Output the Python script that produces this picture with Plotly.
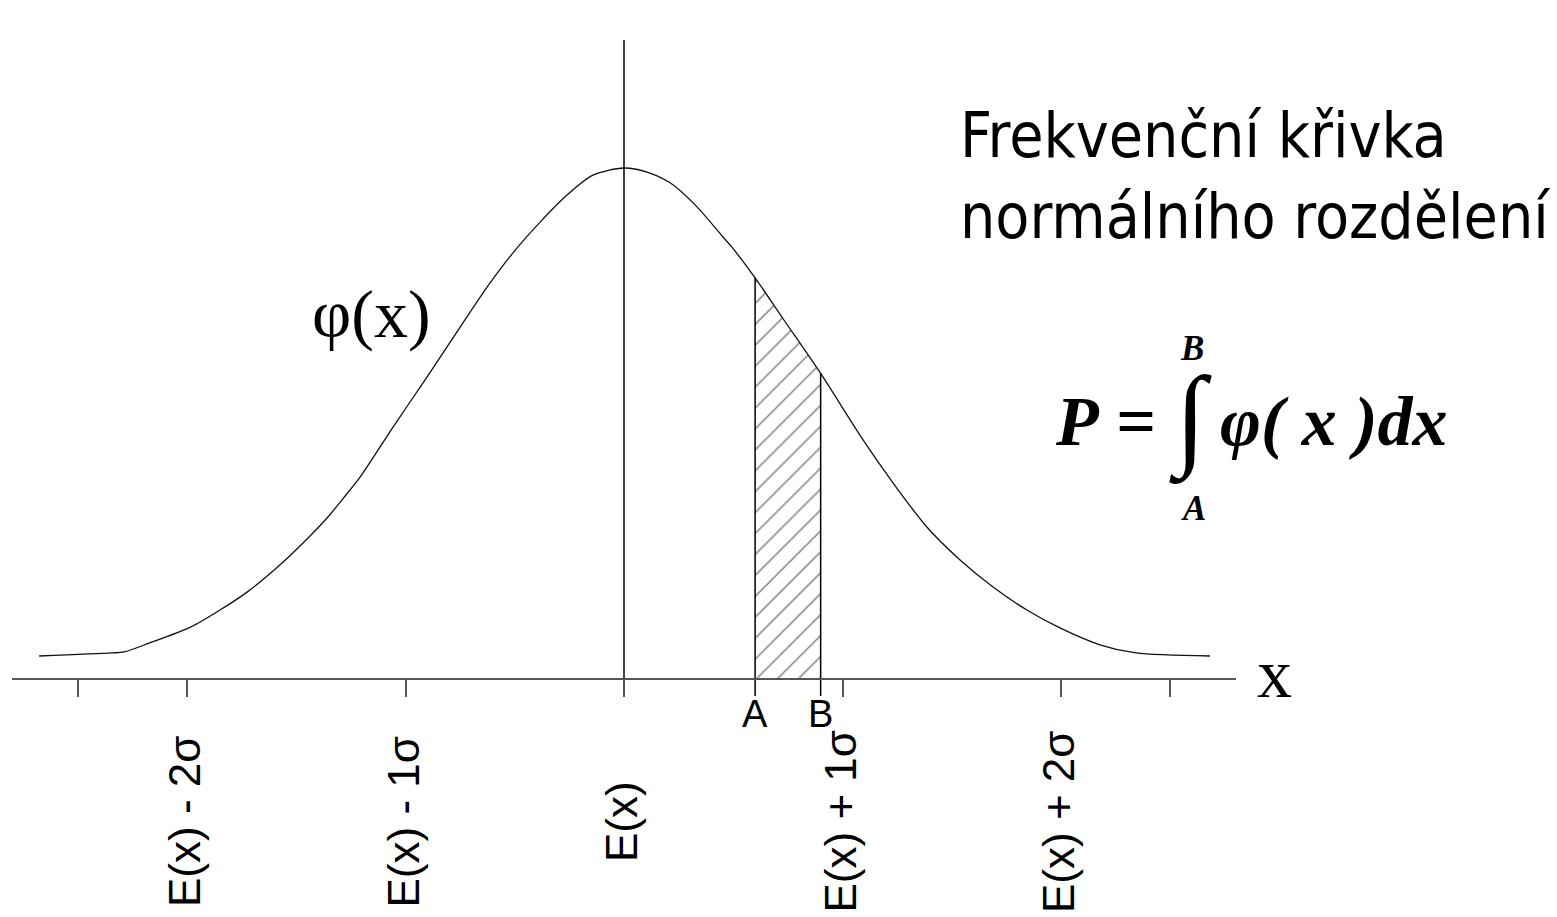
import plotly.graph_objects as go

# ---------------- data (x in units of sigma, y relative to peak height) -------------
CURVE_X = [-2.677, -2.343, -2.288, -2.174, -1.982, -1.849, -1.725, -1.588, -1.469, -1.359,
           -1.286, -1.208, -1.057, -0.911, -0.856, -0.737, -0.613, -0.508, -0.384, -0.261,
           -0.142, 0.000, 0.105, 0.211, 0.334, 0.453, 0.494, 0.600, 0.728, 0.900,
           1.094, 1.231, 1.387, 1.538, 1.689, 1.844, 1.995, 2.178, 2.343, 2.682]
CURVE_Y = [0.045, 0.051, 0.053, 0.070, 0.102, 0.135, 0.170, 0.218, 0.266, 0.315,
           0.353, 0.395, 0.493, 0.585, 0.620, 0.697, 0.775, 0.834, 0.894, 0.947,
           0.986, 1.000, 0.992, 0.971, 0.924, 0.865, 0.845, 0.785, 0.705, 0.598,
           0.468, 0.384, 0.297, 0.233, 0.180, 0.135, 0.100, 0.067, 0.051, 0.045]
A_POS = 0.600
B_POS = 0.900
MEAN = 0.0
TICK_VALS = [-2.5, -2, -1, 0, 1, 2, 2.5]
TICK_TEXT = ["", "E(x) - 2σ", "E(x) - 1σ", "E(x)", "E(x) + 1σ", "E(x) + 2σ", ""]
LIMIT_LABELS = ["A", "B"]
TITLE_LINES = ["Frekvenční křivka", "normálního rozdělení"]
CURVE_LABEL = "φ(x)"
AXIS_LABEL = "x"

# ---------------- layout geometry (pixels) ----------------
W, H = 1557, 917
X0_PX, PX_PER_SIGMA = 624, 218.5
AXIS_Y_PX, PX_PER_UNIT = 679, 511
AXIS_HALF_PX = 612
TICK_LEN = 17


def ydata(py):
    return (AXIS_Y_PX - py) / PX_PER_UNIT


def xdata(px):
    return (px - X0_PX) / PX_PER_SIGMA


def px_x(px):
    return px / W


def px_y(py):
    return 1 - py / H


tick_bottom = ydata(AXIS_Y_PX + TICK_LEN)
line_top = ydata(40)

fig = go.Figure()

# hatched area between A and B
hx = [A_POS] + [x for x in CURVE_X if A_POS <= x <= B_POS] + [B_POS]
hy = [0.0] + [y for x, y in zip(CURVE_X, CURVE_Y) if A_POS <= x <= B_POS] + [0.0]
fig.add_trace(go.Scatter(
    x=hx, y=hy, mode="lines", fill="toself", line=dict(width=0, color="black"),
    fillcolor="rgba(0,0,0,0)",
    fillpattern=dict(shape="/", size=14.8, solidity=0.1, fgcolor="black",
                     bgcolor="rgba(0,0,0,0)"),
    hoverinfo="skip", showlegend=False))

# density curve
fig.add_trace(go.Scatter(x=CURVE_X, y=CURVE_Y, mode="lines",
                         line=dict(color="#111", width=1.3, shape="spline", smoothing=0.8),
                         hoverinfo="skip", showlegend=False))

# vertical lines: mean, A, B
ya = CURVE_Y[CURVE_X.index(A_POS)]
yb = CURVE_Y[CURVE_X.index(B_POS)]
for xv, ytop in [(MEAN, line_top), (A_POS, ya), (B_POS, yb)]:
    fig.add_trace(go.Scatter(x=[xv, xv], y=[tick_bottom, ytop], mode="lines",
                             line=dict(color="black", width=1.5),
                             hoverinfo="skip", showlegend=False))

sans = "Liberation Sans, Arial"
serif = "Liberation Serif, Times New Roman"
ann = []
# rotated tick labels
for v, t in zip(TICK_VALS, TICK_TEXT):
    if t:
        ann.append(dict(x=v - 3 / PX_PER_SIGMA, y=ydata(822), xref="x", yref="y", text=t,
                        showarrow=False, textangle=-90, xanchor="center", yanchor="middle",
                        font=dict(family=sans, size=44, color="black")))
# A / B labels
for v, t in zip([A_POS, B_POS], LIMIT_LABELS):
    ann.append(dict(x=v, y=ydata(714), xref="x", yref="y", text=t, showarrow=False,
                    xanchor="center", yanchor="middle",
                    font=dict(family=sans, size=38, color="black")))
# curve label
ann.append(dict(x=xdata(371), y=ydata(314), xref="x", yref="y", text=CURVE_LABEL,
                showarrow=False, xanchor="center", yanchor="middle",
                font=dict(family=serif, size=68, color="black")))
# axis label
ann.append(dict(x=px_x(1274), y=px_y(673), xref="paper", yref="paper", text=AXIS_LABEL,
                showarrow=False, xanchor="center", yanchor="middle",
                font=dict(family=serif, size=70, color="black")))
# title
ann.append(dict(x=px_x(958), y=px_y(176), xref="paper", yref="paper",
                text="<br>".join(TITLE_LINES), showarrow=False, align="left",
                xanchor="left", yanchor="middle",
                font=dict(family="DejaVu Sans Condensed, DejaVu Sans", size=62, color="black")))
# formula
ann.append(dict(x=px_x(1105), y=px_y(421), xref="paper", yref="paper",
                text="<b><i>P</i> =</b>", showarrow=False, xanchor="center", yanchor="middle",
                font=dict(family=serif, size=70, color="black")))
ann.append(dict(x=px_x(1190), y=px_y(419), xref="paper", yref="paper",
                text="<b>∫</b>", showarrow=False, xanchor="center", yanchor="middle",
                font=dict(family=serif, size=112, color="black")))
ann.append(dict(x=px_x(1192), y=px_y(348), xref="paper", yref="paper",
                text="<b><i>B</i></b>", showarrow=False, xanchor="center", yanchor="middle",
                font=dict(family=serif, size=35, color="black")))
ann.append(dict(x=px_x(1193), y=px_y(509), xref="paper", yref="paper",
                text="<b><i>A</i></b>", showarrow=False, xanchor="center", yanchor="middle",
                font=dict(family=serif, size=35, color="black")))
ann.append(dict(x=px_x(1334), y=px_y(421), xref="paper", yref="paper",
                text="<b><i>φ( x )dx</i></b>", showarrow=False, xanchor="center",
                yanchor="middle", font=dict(family=serif, size=70, color="black")))

fig.update_layout(
    width=W, height=H, autosize=False,
    margin=dict(l=0, r=0, t=0, b=0),
    paper_bgcolor="white", plot_bgcolor="rgba(0,0,0,0)",
    showlegend=False,
    xaxis=dict(domain=[(X0_PX - AXIS_HALF_PX) / W, (X0_PX + AXIS_HALF_PX) / W],
               range=[-AXIS_HALF_PX / PX_PER_SIGMA, AXIS_HALF_PX / PX_PER_SIGMA],
               anchor="free", position=px_y(AXIS_Y_PX),
               showline=True, linecolor="#555", linewidth=2,
               ticks="outside", ticklen=TICK_LEN, tickwidth=1.5, tickcolor="#555",
               tickvals=TICK_VALS, showticklabels=False,
               showgrid=False, zeroline=False, fixedrange=True),
    yaxis=dict(domain=[0, 1], range=[ydata(H), ydata(0)], visible=False,
               showgrid=False, zeroline=False, fixedrange=True),
    annotations=ann,
)

fig.write_html("out.html", config={"displayModeBar": False},
               post_script="document.body.style.margin='0px';"
                           "document.body.style.overflow='hidden';")
